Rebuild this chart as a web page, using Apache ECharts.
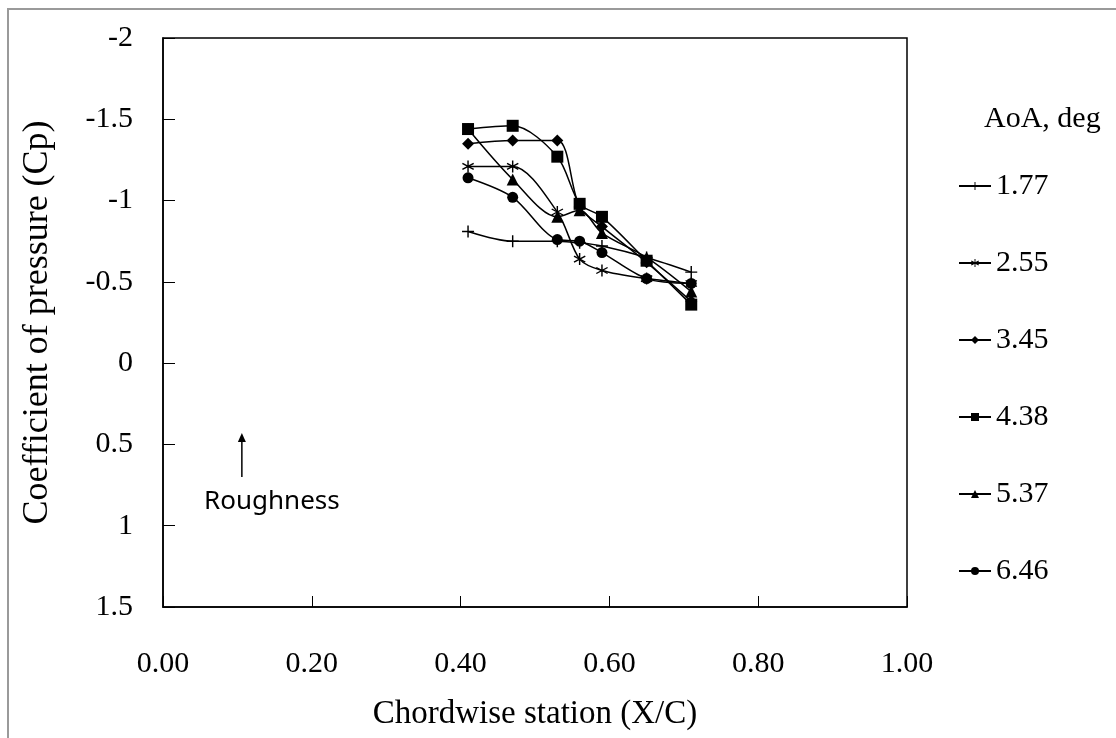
<!DOCTYPE html>
<html>
<head>
<meta charset="utf-8">
<script src="https://cdn.jsdelivr.net/npm/echarts@6/dist/echarts.min.js"></script>
<style>
  html, body { margin: 0; padding: 0; background: #fff; }
  #chart { width: 1116px; height: 738px; }
</style>
</head>
<body>
<div id="chart"></div>
<script>
// Chordwise pressure taps (X/C)
const xStations = [0.41, 0.47, 0.53, 0.56, 0.59, 0.65, 0.71];

// Angle of attack labels (deg)
const aoaLabels = ['1.77', '2.55', '3.45', '4.38', '5.37', '6.46'];

// Pressure coefficient at each station, one array per angle of attack
const cp177 = [-0.81, -0.75, -0.75, -0.74, -0.72, -0.65, -0.56];
const cp255 = [-1.21, -1.21, -0.93, -0.64, -0.57, -0.52, -0.49];
const cp345 = [-1.35, -1.37, -1.37, -0.96, -0.84, -0.62, -0.38];
const cp438 = [-1.44, -1.46, -1.27, -0.98, -0.90, -0.63, -0.36];
const cp537 = [-1.44, -1.13, -0.90, -0.94, -0.80, -0.65, -0.44];
const cp646 = [-1.14, -1.02, -0.76, -0.75, -0.68, -0.52, -0.49];

// Axis tick values
const xTicks = [0.0, 0.2, 0.4, 0.6, 0.8, 1.0];
const yTicks = [-2, -1.5, -1, -0.5, 0, 0.5, 1, 1.5];

// Roughness strip location and its pointer arrow (X/C, Cp)
const roughnessX = 0.106;
const roughnessArrowCp = [0.70, 0.43];
const roughnessLabelCp = 0.85;

// Thin bar between two points, used to build stroke-like marker glyphs
function bar(x1, y1, x2, y2, w) {
  const dx = x2 - x1, dy = y2 - y1;
  const len = Math.sqrt(dx * dx + dy * dy);
  const nx = -dy / len * w, ny = dx / len * w;
  const f = v => v.toFixed(3);
  return 'M' + f(x1 + nx) + ',' + f(y1 + ny) +
         'L' + f(x2 + nx) + ',' + f(y2 + ny) +
         'L' + f(x2 - nx) + ',' + f(y2 - ny) +
         'L' + f(x1 - nx) + ',' + f(y1 - ny) + 'Z';
}
const plusSymbol = 'path://' + bar(5, 0, 5, 10, 0.6) + bar(0, 5, 10, 5, 0.6);
const starSymbol = 'path://' + bar(5, 0, 5, 10, 0.55) +
                   bar(0.67, 2.5, 9.33, 7.5, 0.55) + bar(0.67, 7.5, 9.33, 2.5, 0.55);

const seriesValues = [cp177, cp255, cp345, cp438, cp537, cp646];
const seriesSymbols = [plusSymbol, starSymbol, 'diamond', 'rect', 'triangle', 'circle'];
const seriesSymbolSizes = [12, 12, 12, 12, 12, 11];

const serif = '"Liberation Serif", "Times New Roman", serif';
const frameStyle = { fill: 'none', stroke: '#9a9a9a', lineWidth: 2 };

const chart = echarts.init(document.getElementById('chart'), null, { renderer: 'canvas' });

const series = aoaLabels.map((name, k) => ({
  name: name,
  type: 'line',
  data: xStations.map((x, i) => [x, seriesValues[k][i]]),
  smooth: 0.3,
  symbol: seriesSymbols[k],
  symbolSize: seriesSymbolSizes[k],
  showAllSymbol: true,
  lineStyle: { color: '#000', width: 1.5 },
  itemStyle: { color: '#000', borderWidth: 0 },
  emphasis: { disabled: true },
  animation: false
}));

chart.setOption({
  backgroundColor: '#fff',
  animation: false,
  grid: {
    left: 163, top: 38, right: 209, bottom: 131,
    show: true, borderColor: '#000', borderWidth: 1.5, backgroundColor: '#fff'
  },
  xAxis: {
    type: 'value',
    min: xTicks[0], max: xTicks[xTicks.length - 1], interval: 0.2,
    name: 'Chordwise station (X/C)',
    nameLocation: 'middle', nameGap: 91,
    nameTextStyle: { fontFamily: serif, fontSize: 33, color: '#000' },
    axisLine: { show: true, onZero: false, lineStyle: { color: '#000', width: 1.5 } },
    axisTick: { show: true, inside: true, length: 11, lineStyle: { color: '#000', width: 1 } },
    axisLabel: {
      fontFamily: serif, fontSize: 30, color: '#000', margin: 42,
      formatter: v => v.toFixed(2)
    },
    splitLine: { show: false }
  },
  yAxis: {
    type: 'value', inverse: true,
    min: yTicks[0], max: yTicks[yTicks.length - 1], interval: 0.5,
    name: 'Coefficient of pressure (Cp)',
    nameLocation: 'middle', nameGap: 107, nameRotate: 90,
    nameTextStyle: { fontFamily: serif, fontSize: 36, color: '#000' },
    axisLine: { show: true, onZero: false, lineStyle: { color: '#000', width: 1.5 } },
    axisTick: { show: true, inside: true, length: 12, lineStyle: { color: '#000', width: 1 } },
    axisLabel: {
      fontFamily: serif, fontSize: 30, color: '#000', margin: 30,
      formatter: v => String(v)
    },
    splitLine: { show: false }
  },
  legend: {
    data: aoaLabels,
    orient: 'vertical',
    left: 953, top: 166,
    itemWidth: 32, itemHeight: 10, itemGap: 47,
    selectedMode: false,
    textStyle: { fontFamily: serif, fontSize: 30, color: '#000', padding: [0, 0, 0, 0] }
  },
  series: series
});

// Frame, legend heading and roughness pointer (pointer placed in data coordinates)
const toPx = v => chart.convertToPixel({ xAxisIndex: 0, yAxisIndex: 0 }, v);
const p0 = toPx([roughnessX, roughnessArrowCp[0]]);
const p1 = toPx([roughnessX, roughnessArrowCp[1]]);
const pl = toPx([roughnessX, roughnessLabelCp]);
const head = 9;
chart.setOption({
  graphic: [
    {
      type: 'rect', silent: true, z: 100,
      shape: { x: 8, y: 9, width: 1200, height: 800 },
      style: frameStyle
    },
    {
      type: 'text', silent: true,
      left: 984, top: 104,
      style: { text: 'AoA, deg', fontFamily: serif, fontSize: 30, fill: '#000' }
    },
    {
      type: 'line', silent: true,
      shape: { x1: p0[0], y1: p0[1], x2: p1[0], y2: p1[1] + head - 1 },
      style: { stroke: '#000', lineWidth: 1.5 }
    },
    {
      type: 'polygon', silent: true,
      shape: { points: [[p1[0], p1[1]], [p1[0] - 4, p1[1] + head], [p1[0] + 4, p1[1] + head]] },
      style: { fill: '#000' }
    },
    {
      type: 'text', silent: true,
      x: pl[0] + 30, y: pl[1],
      style: {
        text: 'Roughness', fontFamily: '"Noto Sans", "DejaVu Sans", sans-serif',
        fontSize: 26, fill: '#000', align: 'center', verticalAlign: 'middle'
      }
    }
  ]
}, { replaceMerge: ['graphic'] });
</script>
</body>
</html>
